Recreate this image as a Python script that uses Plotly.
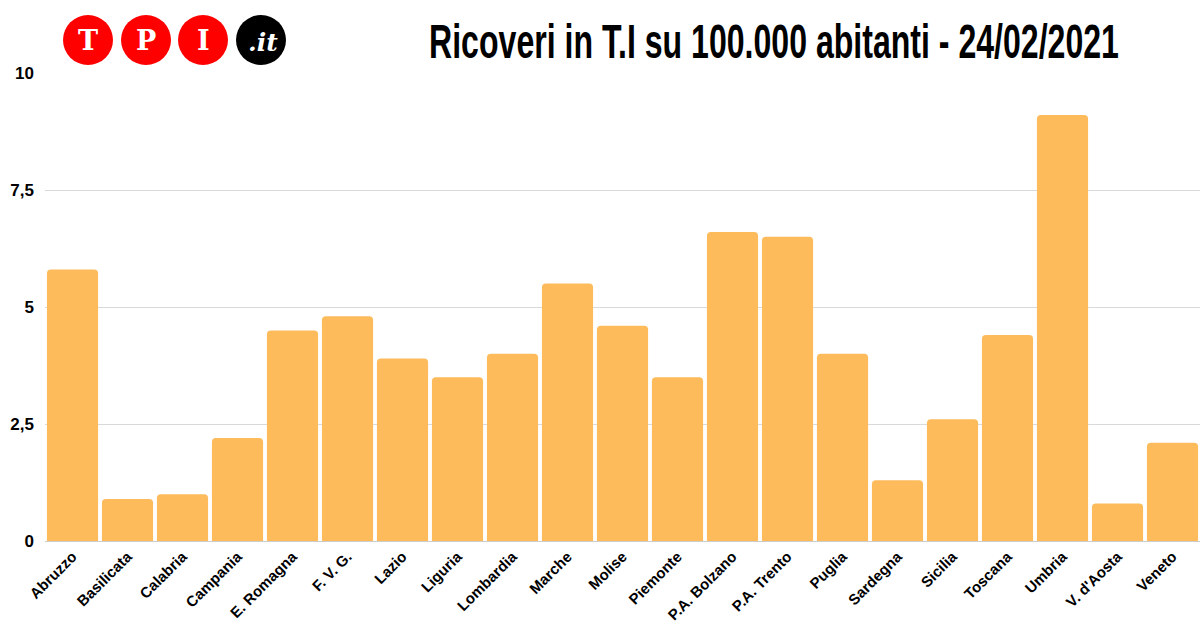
import plotly.graph_objects as go

regions = ["Abruzzo", "Basilicata", "Calabria", "Campania", "E. Romagna", "F. V. G.", "Lazio",
           "Liguria", "Lombardia", "Marche", "Molise", "Piemonte", "P.A. Bolzano", "P.A. Trento",
           "Puglia", "Sardegna", "Sicilia", "Toscana", "Umbria", "V. d'Aosta", "Veneto"]
values = [5.8, 0.9, 1.0, 2.2, 4.5, 4.8, 3.9, 3.5, 4.0, 5.5, 4.6, 3.5, 6.6, 6.5,
          4.0, 1.3, 2.6, 4.4, 9.1, 0.8, 2.1]
y_ticks = [0, 2.5, 5, 7.5, 10]
y_tick_labels = ["0", "2,5", "5", "7,5", "10"]

FONT = "Liberation Sans, Arial, sans-serif"

fig = go.Figure(go.Bar(x=regions, y=values, marker=dict(color="#FDBB5B", line=dict(width=0))))

fig.update_layout(
    width=1200, height=630,
    margin=dict(l=45, r=0, t=73, b=89),
    paper_bgcolor="white", plot_bgcolor="white",
    bargap=0.07, barcornerradius=4,
    showlegend=False,
    title=dict(text="<b>Ricoveri in T.I su 100.000 abitanti - 24/02/2021</b>",
               x=0.645, xanchor="center", y=0.935, yanchor="middle",
               font=dict(family=FONT, size=49, color="black")),
    xaxis=dict(tickangle=-45, tickfont=dict(family=FONT, size=15, color="black", weight="bold"),
               showgrid=False, showline=True, linecolor="#cccccc", ticks=""),
    yaxis=dict(range=[0, 10], tickvals=y_ticks, ticktext=y_tick_labels,
               tickfont=dict(family=FONT, size=17, color="black", weight="bold"),
               gridcolor="#d9d9d9", zeroline=False, ticks="", ticklabelstandoff=10),
)

# logo
centers = [88, 146, 203, 261]
letters = ["T", "P", "I"]
for i, cx in enumerate(centers):
    color = "#FF0000" if i < 3 else "black"
    fig.add_shape(type="circle", xref="paper", yref="paper",
                  x0=(cx - 25 - 45) / 1155, x1=(cx + 25 - 45) / 1155,
                  y0=(541 - (40 + 25)) / 468, y1=(541 - (40 - 25)) / 468,
                  fillcolor=color, line=dict(width=0), layer="above")
    if i < 3:
        fig.add_annotation(xref="paper", yref="paper", x=(cx - 45) / 1155, y=(541 - 40) / 468,
                           xanchor="center", yanchor="middle",
                           text="<b>" + letters[i] + "</b>", showarrow=False,
                           font=dict(family="DejaVu Serif", size=27, color="white"))
    else:
        fig.add_annotation(xref="paper", yref="paper", x=(cx - 45 + 2) / 1155, y=(541 - 42) / 468,
                           xanchor="center", yanchor="middle",
                           text="<b><i>.it</i></b>", showarrow=False,
                           font=dict(family="DejaVu Serif", size=25, color="white"))

post = """
document.body.style.margin='0';
var t=document.querySelector('text.gtitle');
if(t){var b=t.getBBox(); var s=690/b.width; var cx=b.x+b.width/2;
t.setAttribute('transform','translate('+cx+',0) scale('+s+',1) translate('+(-cx)+',0)');}
"""
fig.write_html("out.html", post_script=post, config={"displayModeBar": False})
